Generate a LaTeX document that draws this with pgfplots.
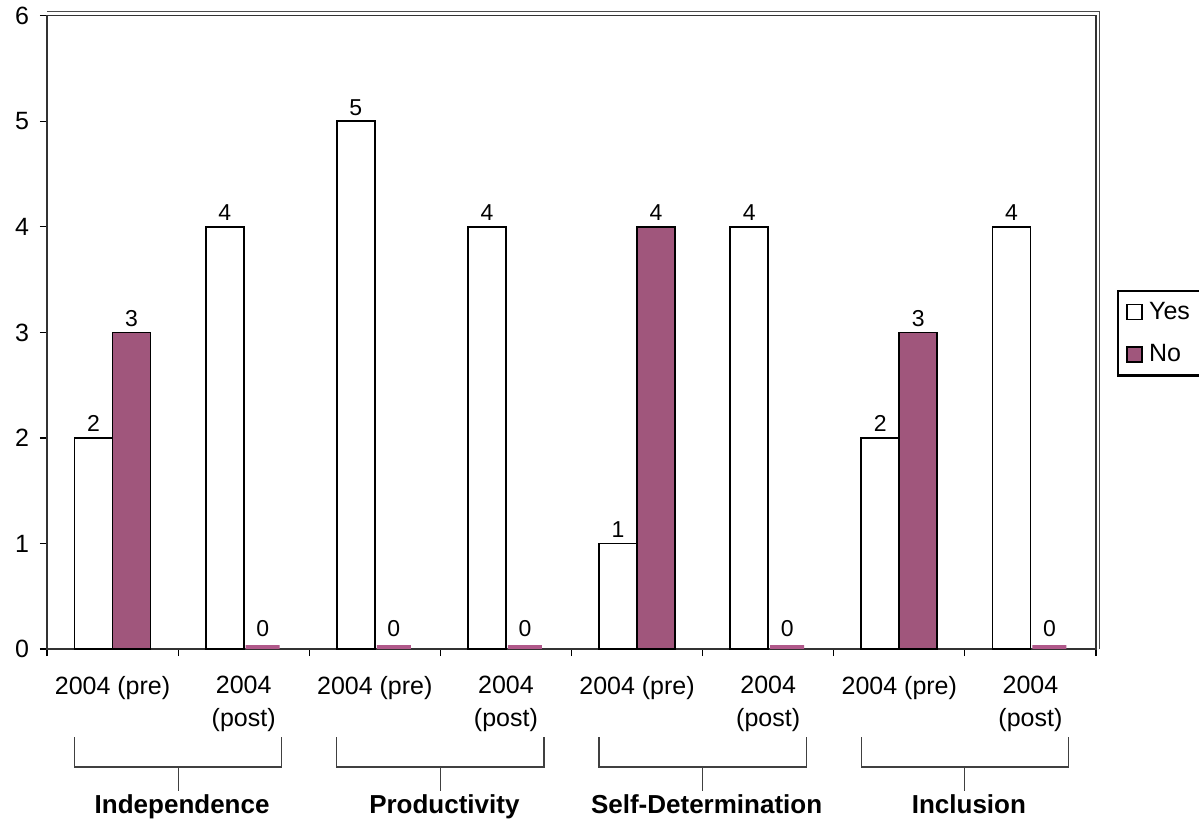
\documentclass[border=0pt]{standalone}
\usepackage{fontspec}
\setmainfont{Liberation Sans}
\usepackage{pgfplots}
\pgfplotsset{compat=1.18}
\definecolor{barNo}{HTML}{A0567C}
\definecolor{barZero}{HTML}{B0588A}

% bracket under a pair of categories: left x, centre x, right x, name
\newcommand{\grp}[4]{%
  \draw[black!75, line width=0.6pt] ([yshift=-44pt]axis cs:#1,0) -- ([yshift=-59pt]axis cs:#1,0)
    -- ([yshift=-59pt]axis cs:#3,0) -- ([yshift=-44pt]axis cs:#3,0);
  \draw[black!75, line width=0.6pt] ([yshift=-59pt]axis cs:#2,0) -- ([yshift=-71pt]axis cs:#2,0);
  \node[anchor=base, font=\fontsize{13}{15}\selectfont\bfseries] at ([xshift=2pt,yshift=-82pt]axis cs:#2,0) {#4};}

\begin{document}
\begin{tikzpicture}
\useasboundingbox (0,0) rectangle (599.5pt,412.5pt);
\begin{axis}[
  at={(23.5pt,88pt)}, anchor=south west,
  scale only axis, width=524.5pt, height=316.6pt,
  xmin=-0.5, xmax=7.5, ymin=0, ymax=6,
  clip=false,
  axis line style={black!80, line width=0.6pt},
  tick style={black, line width=0.6pt},
  tick align=outside, major tick length=3.5pt,
  ytick={0,...,6}, ytick pos=left,
  xtick={-0.5,0.5,...,7.5}, xticklabels={}, xtick pos=bottom,
  extra x ticks={0,1,2,3,4,5,6,7},
  extra x tick labels={2004 (pre),2004\\(post),2004 (pre),2004\\(post),2004 (pre),2004\\(post),2004 (pre),2004\\(post)},
  extra x tick style={major tick length=0pt},
  xticklabel style={align=center, yshift=-10pt},
  every tick label/.append style={font=\fontsize{12.5}{16.5}\selectfont},
  /pgf/number format/assume math mode=true,
  yticklabel style={xshift=-2pt},
  ybar, bar width=19pt,
  nodes near coords,
  nodes near coords style={font=\fontsize{11.5}{13}\selectfont, anchor=base, yshift=3pt},
  legend style={at={(1.020,0.567)}, anchor=north west, draw=black, line width=1.1pt,
    font=\fontsize{12.5}{14}\selectfont, row sep=7pt, inner xsep=4pt, inner ysep=3.5pt,
    cells={anchor=west}},
  legend image code/.code={\draw[#1, line width=0.8pt] (0pt,-3.75pt) rectangle (7.5pt,3.75pt);
    \path (8.7pt,0pt);},
]
\addplot[bar shift=-9.5pt, fill=white, draw=black, line width=0.9pt]
  coordinates {(0,2) (1,4) (2,5) (3,4) (4,1) (5,4) (6,2) (7,4)};
\addlegendentry{Yes}
\addplot[bar shift=9.5pt, fill=barNo, draw=black, line width=0.9pt]
  coordinates {(0,3) (4,4) (6,3)};
\addlegendentry{No}
\addplot[bar shift=9.5pt, bar width=17pt, fill=barZero, draw=barZero, line width=2pt,
  yshift=1.1pt, forget plot, nodes near coords style={yshift=2pt}]
  coordinates {(1,0) (2,0) (3,0) (5,0) (7,0)};
\draw[black!70, line width=0.6pt] ([yshift=2pt]rel axis cs:0,1) -- ([xshift=1.7pt,yshift=2pt]rel axis cs:1,1)
  -- ([xshift=1.7pt]rel axis cs:1,0);
\grp{-0.29}{0.5}{1.29}{Independence}
\grp{1.71}{2.5}{3.29}{Productivity}
\grp{3.71}{4.5}{5.29}{Self-Determination}
\grp{5.71}{6.5}{7.29}{Inclusion}
\end{axis}
\end{tikzpicture}
\end{document}
